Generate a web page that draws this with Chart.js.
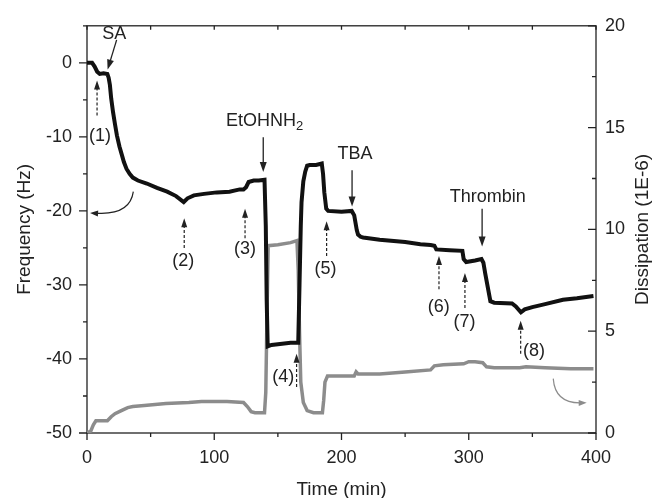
<!DOCTYPE html>
<html>
<head>
<meta charset="utf-8">
<title>QCM-D frequency and dissipation</title>
<script src="https://cdn.jsdelivr.net/npm/chart.js@4.4.0/dist/chart.umd.min.js"></script>
<style>
    body { margin: 0; background: #fff; }
    canvas { display: block; }
</style>
</head>
<body>
<canvas id="qcmChart" width="660" height="498"></canvas>
<script>
// frequency (black curve)
const freqTime = [0, 4, 6, 8, 10, 13, 16, 17, 18, 19, 20.5, 22, 23.5, 25.5, 27.5, 29, 31, 33.5, 36, 40, 47, 55, 63, 70, 76,
    79, 84, 92, 102, 112, 120, 123, 125, 127, 131, 135, 139.5, 140.5, 141.2, 142, 145, 150, 160, 166, 167, 168, 168.6,
    170, 171.5, 173, 175, 180, 184.5, 185.5, 186.5, 188, 189.5, 200, 208, 210, 212, 213, 215, 217, 230, 250, 262, 270,
    273, 274.5, 285, 295, 296, 298, 305, 310, 311.5, 313, 314.5, 317, 320, 334, 337, 341, 344, 350, 360, 374, 385, 398];
const freqValue = [0, 0, -0.5, -1.2, -1.5, -1.4, -1.5, -2, -3, -4.8, -6.7, -8.3, -9.8, -11.3, -12.5, -13.4, -14.3, -15, -15.5, -15.9, -16.3, -16.9, -17.4, -18, -18.8,
    -18.3, -17.9, -17.7, -17.5, -17.4, -17.1, -17.1, -16.8, -16.1, -15.9, -15.9, -15.8, -22, -32, -38.3, -38.1, -38, -37.8, -37.8, -30, -22, -18.8,
    -16, -14.7, -13.9, -13.8, -13.8, -13.6, -15, -17.5, -19.7, -20, -20.1, -20, -20.6, -22.6, -23.2, -23.5, -23.6, -23.9, -24.2, -24.5, -24.6,
    -24.7, -25.2, -25.3, -25.4, -26.5, -26.9, -26.7, -26.5, -27, -28.5, -29.9, -32.2, -32.4, -32.5, -32.9, -33.7, -33.3, -33, -32.6, -32, -31.8, -31.5];

// dissipation (grey curve)
const dissTime = [0, 3, 5, 7, 12, 16, 19, 22, 27, 32, 36, 45, 62, 80, 90, 110, 123, 126, 129, 132, 139.5, 140.5, 141.5, 142.4,
    150, 160, 165, 166, 167, 168, 170, 173, 178, 185, 186, 187, 189, 200, 210, 211.5, 213, 230, 250, 270, 273, 280, 296,
    300, 305, 311, 314, 320, 340, 345, 360, 380, 398];
const dissValue = [0, 0.1, 0.4, 0.6, 0.6, 0.6, 0.8, 0.95, 1.1, 1.25, 1.3, 1.35, 1.45, 1.5, 1.55, 1.55, 1.5, 1.3, 1.05, 1.0, 1.0, 2, 6, 9.2,
    9.25, 9.35, 9.45, 8, 5, 2.5, 1.5, 1.1, 1.0, 1.0, 1.6, 2.5, 2.8, 2.8, 2.8, 3.0, 2.9, 2.9, 3.0, 3.1, 3.3, 3.35, 3.4,
    3.5, 3.5, 3.45, 3.25, 3.2, 3.2, 3.25, 3.2, 3.15, 3.15];

// axis tick labels
const timeTicks = [0, 100, 200, 300, 400];
const freqTicks = [-50, -40, -30, -20, -10, 0];
const dissTicks = [0, 5, 10, 15, 20];

// numbered steps (dashed arrows), in data units: label (t, f), arrow at t from f0 up to f1
const stepNames = ['(1)', '(2)', '(3)', '(4)', '(5)', '(6)', '(7)', '(8)'];
const stepLabelT = [10.2, 75.7, 124.2, 154.3, 187.5, 276.4, 296.7, 351.3];
const stepLabelF = [-9.85, -26.8, -25.2, -42.5, -27.9, -33, -35, -38.9];
const stepArrowT = [7.9, 76.4, 124.2, 164.7, 188.3, 276.6, 297, 340.8];
const stepArrowF0 = [-7.1, -25, -23.7, -43.8, -26.1, -30.6, -33.1, -39.3];
const stepArrowF1 = [-2.4, -21, -19.7, -39.3, -21.4, -26.1, -28.4, -34.85];

// injections (solid arrows)
const injNames = ['SA', 'EtOHNH', 'TBA', 'Thrombin'];
const injSub = ['', '2', '', ''];
const injLabelT = [21.5, 139.5, 210.6, 315];
const injLabelF = [3.95, -7.8, -12.3, -18.1];
const injFrom = [[23.3, 3.1], [138.5, -10.05], [208.3, -14.5], [310.5, -19.7]];
const injTo = [[16.2, -0.9], [138.5, -14.75], [208.3, -19.4], [310.5, -24.8]];

const FONT = '"Liberation Sans", Arial, Helvetica, sans-serif';
const INK = '#222';

function toPoints(xs, ys) {
    return xs.map((x, i) => ({ x: x, y: ys[i] }));
}

function arrowHead(ctx, x0, y0, x1, y1, len, half) {
    const a = Math.atan2(y1 - y0, x1 - x0);
    ctx.beginPath();
    ctx.moveTo(x1, y1);
    ctx.lineTo(x1 - len * Math.cos(a) + half * Math.sin(a), y1 - len * Math.sin(a) - half * Math.cos(a));
    ctx.lineTo(x1 - len * Math.cos(a) - half * Math.sin(a), y1 - len * Math.sin(a) + half * Math.cos(a));
    ctx.closePath();
    ctx.fill();
}

function arrow(ctx, x0, y0, x1, y1, dashed) {
    const a = Math.atan2(y1 - y0, x1 - x0);
    const len = dashed ? 9 : 10;
    ctx.setLineDash(dashed ? [3, 2] : []);
    ctx.beginPath();
    ctx.moveTo(x0, y0);
    ctx.lineTo(x1 - Math.cos(a) * len * 0.8, y1 - Math.sin(a) * len * 0.8);
    ctx.stroke();
    ctx.setLineDash([]);
    arrowHead(ctx, x0, y0, x1, y1, len, dashed ? 3 : 3.5);
}

// frame + tick marks (left/bottom outward, right/top inward)
const framePlugin = {
    id: 'frame',
    beforeDatasetsDraw(chart) {
        const { ctx, chartArea: a, scales } = chart;
        const x = scales.x, yf = scales.yf, yd = scales.yd;
        ctx.save();
        ctx.strokeStyle = INK;
        ctx.lineWidth = 1.3;
        ctx.strokeRect(a.left, a.top, a.right - a.left, a.bottom - a.top);
        ctx.beginPath();
        for (let v = 0; v <= 400; v += 50) {
            const px = x.getPixelForValue(v);
            const major = v % 100 === 0;
            ctx.moveTo(px, a.bottom);
            ctx.lineTo(px, a.bottom + (major ? 7 : 4));
            ctx.moveTo(px, a.top);
            ctx.lineTo(px, a.top + 4);
        }
        for (let v = -50; v <= 5; v += 5) {
            const py = yf.getPixelForValue(v);
            ctx.moveTo(a.left, py);
            ctx.lineTo(a.left - (v % 10 === 0 ? 8 : 4), py);
        }
        for (let v = 0; v <= 20; v += 2.5) {
            const py = yd.getPixelForValue(v);
            ctx.moveTo(a.right, py);
            ctx.lineTo(a.right - (v % 5 === 0 ? 8 : 4), py);
        }
        ctx.stroke();

        // right axis title reads bottom-to-top like the left one
        ctx.fillStyle = INK;
        ctx.font = '19px ' + FONT;
        ctx.textAlign = 'center';
        ctx.textBaseline = 'middle';
        ctx.translate(yd.right - 17, (a.top + a.bottom) / 2);
        ctx.rotate(-Math.PI / 2);
        ctx.fillText('Dissipation (1E-6)', 0, 0);
        ctx.restore();
    },
    afterDatasetsDraw(chart) {
        const { ctx, scales } = chart;
        const x = scales.x, yf = scales.yf, yd = scales.yd;
        ctx.save();
        ctx.fillStyle = INK;
        ctx.strokeStyle = INK;
        ctx.lineWidth = 1.2;
        ctx.font = '18px ' + FONT;
        ctx.textAlign = 'center';
        ctx.textBaseline = 'middle';

        // numbered steps
        stepNames.forEach((name, i) => {
            const px = x.getPixelForValue(stepArrowT[i]);
            arrow(ctx, px, yf.getPixelForValue(stepArrowF0[i]), px, yf.getPixelForValue(stepArrowF1[i]), true);
            ctx.fillText(name, x.getPixelForValue(stepLabelT[i]), yf.getPixelForValue(stepLabelF[i]));
        });

        // injections
        ctx.lineWidth = 1.3;
        injNames.forEach((name, i) => {
            arrow(ctx, x.getPixelForValue(injFrom[i][0]), yf.getPixelForValue(injFrom[i][1]),
                x.getPixelForValue(injTo[i][0]), yf.getPixelForValue(injTo[i][1]), false);
            const cx = x.getPixelForValue(injLabelT[i]);
            const cy = yf.getPixelForValue(injLabelF[i]);
            ctx.font = '18px ' + FONT;
            const w = ctx.measureText(name).width;
            if (injSub[i]) {
                ctx.font = '13px ' + FONT;
                const ws = ctx.measureText(injSub[i]).width;
                const left = cx - (w + ws) / 2;
                ctx.textAlign = 'left';
                ctx.font = '18px ' + FONT;
                ctx.fillText(name, left, cy);
                ctx.font = '13px ' + FONT;
                ctx.fillText(injSub[i], left + w, cy + 6);
                ctx.textAlign = 'center';
            } else {
                ctx.fillText(name, cx, cy);
            }
        });

        // curved arrows pointing to the axis each curve belongs to
        ctx.lineWidth = 1.2;
        let p0 = [x.getPixelForValue(36.4), yf.getPixelForValue(-17.4)];
        let pc = [x.getPixelForValue(33.8), yf.getPixelForValue(-20.6)];
        let p1 = [x.getPixelForValue(2.4), yf.getPixelForValue(-20.3)];
        ctx.beginPath();
        ctx.moveTo(p0[0], p0[1]);
        ctx.quadraticCurveTo(pc[0], pc[1], p1[0] + 6, p1[1]);
        ctx.stroke();
        arrowHead(ctx, pc[0], pc[1], p1[0], p1[1], 8, 3);

        ctx.strokeStyle = '#8c8c8c';
        ctx.fillStyle = '#8c8c8c';
        p0 = [x.getPixelForValue(366.4), yd.getPixelForValue(2.67)];
        pc = [x.getPixelForValue(367.8), yd.getPixelForValue(1.46)];
        p1 = [x.getPixelForValue(392.7), yd.getPixelForValue(1.48)];
        ctx.beginPath();
        ctx.moveTo(p0[0], p0[1]);
        ctx.quadraticCurveTo(pc[0], pc[1], p1[0] - 6, p1[1]);
        ctx.stroke();
        arrowHead(ctx, pc[0], pc[1], p1[0], p1[1], 8, 3);
        ctx.restore();
    }
};

const ctx = document.getElementById('qcmChart').getContext('2d');
const qcmChart = new Chart(ctx, {
    type: 'line',
    data: {
        datasets: [{
            label: 'Frequency',
            data: toPoints(freqTime, freqValue),
            yAxisID: 'yf',
            borderColor: '#111',
            borderWidth: 4,
            pointRadius: 0,
            tension: 0
        }, {
            label: 'Dissipation',
            data: toPoints(dissTime, dissValue),
            yAxisID: 'yd',
            borderColor: '#8c8c8c',
            borderWidth: 3.5,
            pointRadius: 0,
            tension: 0
        }]
    },
    options: {
        responsive: false,
        animation: false,
        layout: { padding: { top: 23 } },
        plugins: {
            legend: { display: false },
            tooltip: { enabled: false }
        },
        scales: {
            x: {
                type: 'linear',
                position: 'bottom',
                min: 0,
                max: 400,
                afterBuildTicks: s => { s.ticks = timeTicks.map(v => ({ value: v })); },
                afterFit: s => { s.height = 65; },
                grid: { display: false, drawTicks: false },
                border: { display: false },
                ticks: { color: INK, font: { family: FONT, size: 18 }, padding: 14, maxRotation: 0 },
                title: {
                    display: true, text: 'Time (min)', color: INK,
                    font: { family: FONT, size: 19, lineHeight: 0.8 }, padding: { top: 0, bottom: 0.4 }
                }
            },
            yf: {
                type: 'linear',
                position: 'left',
                min: -50,
                max: 5,
                afterBuildTicks: s => { s.ticks = freqTicks.map(v => ({ value: v })); },
                afterFit: s => { s.width = 87; },
                grid: { display: false, drawTicks: false },
                border: { display: false },
                ticks: { color: INK, font: { family: FONT, size: 18 }, padding: 15 },
                title: {
                    display: true, text: 'Frequency (Hz)', color: INK,
                    font: { family: FONT, size: 19 }, padding: { top: 13.6, bottom: 0 }
                }
            },
            yd: {
                type: 'linear',
                position: 'right',
                min: 0,
                max: 20,
                afterBuildTicks: s => { s.ticks = dissTicks.map(v => ({ value: v })); },
                afterFit: s => { s.width = 64; },
                grid: { display: false, drawTicks: false },
                border: { display: false },
                ticks: { color: INK, font: { family: FONT, size: 18 }, padding: 9 },
                title: { display: false }
            }
        }
    },
    plugins: [framePlugin]
});
</script>
</body>
</html>
